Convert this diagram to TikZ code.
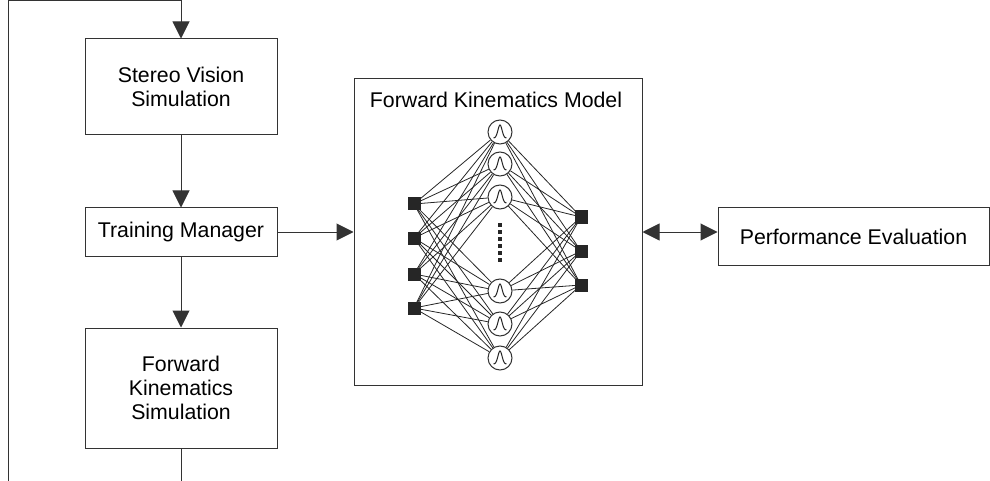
\documentclass[tikz,border=0pt]{standalone}
\usepackage{fontspec}
\setmainfont{Liberation Sans}
\usetikzlibrary{arrows.meta,backgrounds}
\begin{document}
\begin{tikzpicture}[x=1pt,y=-1pt,
  box/.style={draw=black!80, line width=1pt, inner sep=0pt, align=center,
    font=\fontsize{21.3}{24}\selectfont},
  arr/.style={draw=black!80, line width=1pt, -{Triangle[length=17pt,width=17pt]}},
  arrtwo/.style={draw=black!80, line width=1pt, {Triangle[length=17pt,width=17pt]}-{Triangle[length=17pt,width=17pt]}},
  insq/.style={fill=black!85, minimum size=13pt, inner sep=0pt},
  hid/.style={circle, draw=black!80, fill=white, line width=1pt, minimum size=24pt, inner sep=0pt},
  link/.style={draw=black!85, line width=0.8pt},
  dotsq/.style={fill=black!85, minimum width=3.5pt, minimum height=3.5pt, inner sep=0pt}]
\useasboundingbox (0,0) rectangle (990,481);
% left column
\node[box, minimum width=192pt, minimum height=96pt] (svs) at (181,87) {Stereo Vision\\Simulation};
\node[box, minimum width=192pt, minimum height=48pt] (tm) at (181,232) {Training Manager};
\node[box, minimum width=192pt, minimum height=120pt] (fks) at (181,388) {Forward\\Kinematics\\Simulation};
% model box
\node[box, minimum width=288pt, minimum height=306pt] (fkm) at (498,232) {};
\node[font=\fontsize{21.3}{24}\selectfont, inner sep=0pt] (title) at (496,100) {Forward Kinematics Model};
% performance evaluation
\node[box, minimum width=271pt, minimum height=57pt] (pe) at (853.5,236.5) {Performance Evaluation};
% network
\node[insq] (i1) at (414,204) {};
\node[insq] (i2) at (414,238) {};
\node[insq] (i3) at (414,274) {};
\node[insq] (i4) at (414,308) {};
\node[hid] (h1) at (500,132) {};
\node[hid] (h2) at (500,164) {};
\node[hid] (h3) at (500,197) {};
\node[hid] (h4) at (500,291) {};
\node[hid] (h5) at (500,324) {};
\node[hid] (h6) at (500,358) {};
\node[insq] (o1) at (581,217) {};
\node[insq] (o2) at (581,251) {};
\node[insq] (o3) at (581,285) {};
\foreach \k in {1,...,6}{
  \draw[line width=1pt, black!85, shift={(h\k.center)}]
    plot[domain=-6.5:6.5, samples=31, smooth] (\x, {6-13*exp(-(\x/2.9)^2)});
}
\foreach \k/\yy in {1/225,2/232,3/239,4/246,5/253,6/260}{
  \node[dotsq] (d\k) at (500,\yy) {};
}
\begin{scope}[on background layer]
  \foreach \a in {1,...,4}{
    \foreach \b in {1,...,6}{
      \draw[link] (i\a.center) -- (h\b);
    }
  }
  \foreach \b in {1,...,6}{
    \foreach \c in {1,...,3}{
      \draw[link] (h\b) -- (o\c.center);
    }
  }
\end{scope}
% connectors
\draw[arr] (svs.south) -- (tm.north);
\draw[arr] (tm.south) -- (fks.north);
\draw[arr] (tm.east) -- (tm.east -| fkm.west);
\draw[arrtwo] (fkm.east) -- (fkm.east -| pe.west);
\coordinate (lb) at (8,481);
\coordinate (lt) at (8,1);
\draw[arr] (fks.south) -- (fks.south |- lb) -- (lb) -- (lt) -- (lt -| svs.north) -- (svs.north);
\end{tikzpicture}
\end{document}
